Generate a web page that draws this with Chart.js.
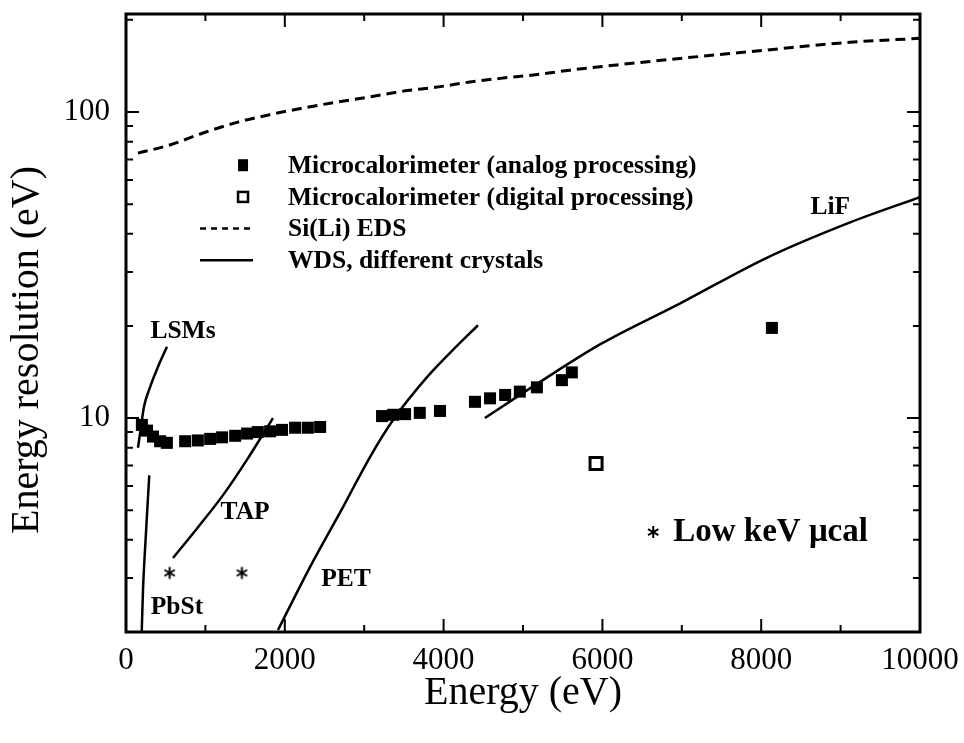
<!DOCTYPE html>
<html>
<head>
<meta charset="utf-8">
<script src="https://cdn.jsdelivr.net/npm/chart.js@4.4.0/dist/chart.umd.min.js"></script>
<style>
  html, body { margin: 0; padding: 0; background: #fff; }
  #wrap { width: 964px; height: 743px; }
</style>
</head>
<body>
<div id="wrap"><canvas id="resChart" width="964" height="743"></canvas></div>
<script>
const FONT = "'Liberation Serif', 'Times New Roman', serif";

// Si(Li) EDS resolution
const edsEnergy = [150, 550, 970, 1400, 1810, 2230, 2660, 3070, 3490, 3920, 4330, 4750, 5180, 5590, 6180, 7020, 8070, 9120, 10000];
const edsFwhm = [73.4, 78, 85.4, 92.5, 98, 103, 107.8, 112, 117, 120.6, 125.3, 129.1, 132.5, 137, 142.5, 150, 159.4, 169, 174];

// WDS, one curve per crystal
const lsmEnergy = [151, 189, 227, 302, 403, 516];
const lsmFwhm = [8.0, 9.35, 10.9, 12.6, 14.7, 17.1];
const pbstEnergy = [198, 214, 239, 293];
const pbstFwhm = [2.0, 2.74, 3.7, 6.5];
const tapEnergy = [592, 907, 1222, 1537, 1851];
const tapFwhm = [3.49, 4.4, 5.6, 7.4, 10.0];
const petEnergy = [1914, 2317, 2733, 3073, 3363, 3791, 4118, 4433];
const petFwhm = [2.03, 3.26, 5.12, 7.46, 9.85, 13.6, 16.7, 20.1];
const lifEnergy = [4520, 5210, 5970, 6980, 8070, 9120, 10000];
const lifFwhm = [10.0, 13.1, 17.4, 23.7, 33.4, 43.6, 52.7];

// microcalorimeter measurements
const analogEnergy = [200, 265, 340, 430, 515, 745, 905, 1060, 1210, 1375, 1525, 1660, 1815, 1965, 2130, 2290, 2445,
  3225, 3365, 3515, 3700, 3955, 4395, 4585, 4775, 4960, 5175, 5490, 5615, 8135];
const analogFwhm = [9.5, 9.1, 8.7, 8.4, 8.3, 8.4, 8.45, 8.55, 8.65, 8.75, 8.9, 9.0, 9.05, 9.15, 9.3, 9.3, 9.35,
  10.15, 10.25, 10.3, 10.4, 10.55, 11.3, 11.6, 11.9, 12.2, 12.6, 13.3, 14.1, 19.7];
const digitalEnergy = [5920];
const digitalFwhm = [7.1];
const lowKevEnergy = [550, 1460];
const lowKevFwhm = [3.12, 3.12];

// axis ticks
const xMajorTicks = [0, 2000, 4000, 6000, 8000, 10000];
const xMinorTicks = [1000, 3000, 5000, 7000, 9000];
const yLabelled = [10, 100];
const yMinorTicks = [2, 3, 4, 5, 6, 7, 8, 9, 20, 30, 40, 50, 60, 70, 80, 90, 200];

const crystalLabels = [
  { text: 'LSMs', x: 718, y: 19.2 },
  { text: 'TAP', x: 1500, y: 4.93 },
  { text: 'PbSt', x: 642, y: 2.4 },
  { text: 'PET', x: 2770, y: 2.98 },
  { text: 'LiF', x: 8870, y: 48.6 }
];

const legendItems = [
  { kind: 'filled', text: 'Microcalorimeter (analog processing)' },
  { kind: 'open', text: 'Microcalorimeter (digital processing)' },
  { kind: 'dashed', text: 'Si(Li) EDS' },
  { kind: 'solid', text: 'WDS, different crystals' }
];

function pts(xs, ys) {
  return xs.map((x, i) => ({ x: x, y: ys[i] }));
}

function wdsCurve(xs, ys) {
  return {
    type: 'line',
    data: pts(xs, ys),
    borderColor: '#000',
    borderWidth: 2.5,
    pointRadius: 0,
    cubicInterpolationMode: 'monotone',
    fill: false
  };
}

// six-armed asterisk, used as a point style and next to the note
function strokeAsterisk(ctx, cx, cy, r) {
  ctx.beginPath();
  for (let k = 0; k < 3; k++) {
    const ang = Math.PI / 2 + k * Math.PI / 3;
    ctx.moveTo(cx - r * Math.cos(ang), cy - r * Math.sin(ang));
    ctx.lineTo(cx + r * Math.cos(ang), cy + r * Math.sin(ang));
  }
  ctx.stroke();
}

const asteriskImg = document.createElement('canvas');
asteriskImg.width = 15;
asteriskImg.height = 15;
(function () {
  const c = asteriskImg.getContext('2d');
  c.strokeStyle = '#000';
  c.lineWidth = 2;
  strokeAsterisk(c, 7.5, 7.5, 6);
})();

// frame, inward ticks, legend and text labels
const decorations = {
  id: 'decorations',
  afterDatasetsDraw(chart) {
    const ctx = chart.ctx;
    const a = chart.chartArea;
    const xs = chart.scales.x;
    const ys = chart.scales.y;
    ctx.save();
    ctx.strokeStyle = '#000';
    ctx.fillStyle = '#000';

    // tick marks on all four sides
    ctx.lineWidth = 2;
    function xTick(v, len) {
      const px = xs.getPixelForValue(v);
      ctx.beginPath();
      ctx.moveTo(px, a.bottom); ctx.lineTo(px, a.bottom - len);
      ctx.moveTo(px, a.top); ctx.lineTo(px, a.top + len);
      ctx.stroke();
    }
    function yTick(v, len) {
      const py = ys.getPixelForValue(v);
      ctx.beginPath();
      ctx.moveTo(a.left, py); ctx.lineTo(a.left + len, py);
      ctx.moveTo(a.right, py); ctx.lineTo(a.right - len, py);
      ctx.stroke();
    }
    xMajorTicks.forEach(v => xTick(v, 13));
    xMinorTicks.forEach(v => xTick(v, 7));
    yLabelled.forEach(v => yTick(v, 13));
    yMinorTicks.forEach(v => yTick(v, 7));

    ctx.lineWidth = 3;
    ctx.strokeRect(a.left, a.top, a.right - a.left, a.bottom - a.top);

    // legend
    const lx = xs.getPixelForValue(1474);
    let ly = ys.getPixelForValue(67);
    ctx.font = 'bold 25.5px ' + FONT;
    ctx.textAlign = 'left';
    ctx.textBaseline = 'middle';
    legendItems.forEach(item => {
      if (item.kind === 'filled') {
        ctx.fillRect(lx - 5, ly - 6, 10, 12);
      } else if (item.kind === 'open') {
        ctx.lineWidth = 2.5;
        ctx.setLineDash([]);
        ctx.strokeRect(lx - 5, ly - 5, 10, 10);
      } else {
        ctx.lineWidth = 2.5;
        ctx.setLineDash(item.kind === 'dashed' ? [6, 5] : []);
        ctx.beginPath();
        ctx.moveTo(lx - 43, ly); ctx.lineTo(lx + 10, ly);
        ctx.stroke();
        ctx.setLineDash([]);
      }
      ctx.fillText(item.text, lx + 45, ly + 1);
      ly += 31.7;
    });

    // crystal names
    ctx.textAlign = 'center';
    crystalLabels.forEach(l => {
      ctx.fillText(l.text, xs.getPixelForValue(l.x), ys.getPixelForValue(l.y));
    });

    // low keV note
    const sx = xs.getPixelForValue(6640);
    const sy = ys.getPixelForValue(4.24);
    ctx.lineWidth = 2;
    strokeAsterisk(ctx, sx, sy, 6);
    ctx.font = 'bold 33px ' + FONT;
    ctx.textAlign = 'left';
    ctx.fillText('Low keV \u03bccal', sx + 20, sy);

    // y axis title
    ctx.font = '40px ' + FONT;
    ctx.textAlign = 'center';
    ctx.translate(27, 350);
    ctx.rotate(-Math.PI / 2);
    ctx.fillText('Energy resolution (eV)', 0, 0);
    ctx.restore();
  }
};

new Chart(document.getElementById('resChart'), {
  type: 'scatter',
  data: {
    datasets: [
      {
        type: 'line',
        data: pts(edsEnergy, edsFwhm),
        borderColor: '#000',
        borderWidth: 3,
        borderDash: [10, 6],
        pointRadius: 0,
        cubicInterpolationMode: 'monotone',
        fill: false
      },
      wdsCurve(lsmEnergy, lsmFwhm),
      wdsCurve(pbstEnergy, pbstFwhm),
      wdsCurve(tapEnergy, tapFwhm),
      wdsCurve(petEnergy, petFwhm),
      wdsCurve(lifEnergy, lifFwhm),
      {
        data: pts(analogEnergy, analogFwhm),
        pointStyle: 'rect',
        pointRadius: 8.5,
        backgroundColor: '#000',
        borderColor: '#000',
        borderWidth: 0
      },
      {
        data: pts(digitalEnergy, digitalFwhm),
        pointStyle: 'rect',
        pointRadius: 8.5,
        backgroundColor: '#fff',
        borderColor: '#000',
        borderWidth: 3
      },
      {
        data: pts(lowKevEnergy, lowKevFwhm),
        pointStyle: asteriskImg,
        pointRadius: 7
      }
    ]
  },
  options: {
    responsive: false,
    animation: false,
    layout: { padding: { left: 0, right: 44, top: 14, bottom: 0 } },
    plugins: {
      legend: { display: false },
      tooltip: { enabled: false }
    },
    scales: {
      x: {
        type: 'linear',
        min: 0,
        max: 10000,
        // tick marks are drawn inward by the plugin; tickLength only spaces the labels
        grid: { display: false, drawTicks: true, tickLength: 13 },
        border: { display: false },
        ticks: {
          stepSize: 2000,
          padding: 0,
          maxRotation: 0,
          autoSkip: false,
          color: '#000',
          font: { family: FONT, size: 31, lineHeight: 1 },
          callback: v => String(v)
        },
        title: {
          display: true,
          text: 'Energy (eV)',
          color: '#000',
          font: { family: FONT, size: 40, lineHeight: 1 },
          padding: { top: 0, bottom: 30 }
        },
        afterFit: s => { s.height = 111; }
      },
      y: {
        type: 'logarithmic',
        min: 2,
        max: 209,
        grid: { display: false, drawTicks: true, tickLength: 16 },
        border: { display: false },
        ticks: {
          padding: 0,
          autoSkip: false,
          color: '#000',
          font: { family: FONT, size: 31, lineHeight: 0.8 },
          callback: v => (yLabelled.includes(v) ? String(v) : '')
        },
        afterFit: s => { s.width = 126; }
      }
    }
  },
  plugins: [decorations]
});
</script>
</body>
</html>
